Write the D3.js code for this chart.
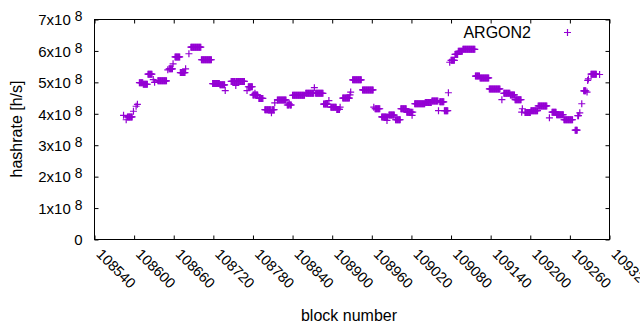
<!DOCTYPE html>
<html>
<head>
<meta charset="utf-8">
<script src="https://cdn.jsdelivr.net/npm/d3@7"></script>
<style>
  body { margin: 0; background: #fff; }
  text { font-family: "Liberation Sans", Arial, sans-serif; fill: #000; }
</style>
</head>
<body>
<svg id="chart" width="640" height="330"></svg>
<script>
// hashrate is reported per block but stays flat for runs of blocks,
// so the series is kept as runs: first block, number of blocks, value (x1e8 h/s)
const runStart = [
  108584, 108588, 108590, 108599, 108603, 108605, 108608, 108614, 108621, 108629,
  108631, 108636, 108651, 108653, 108659, 108662, 108670, 108678, 108683, 108686,
  108702, 108719, 108730, 108738, 108747, 108754, 108755, 108771, 108773, 108780,
  108783, 108784, 108789, 108798, 108808, 108809, 108813, 108817, 108832, 108835,
  108836, 108840, 108860, 108873, 108875, 108887, 108895, 108898, 108907, 108912,
  108916, 108927, 108928, 108931, 108946, 108963, 108965, 108975, 108983, 108984,
  108986, 108996, 109004, 109013, 109021, 109022, 109025, 109041, 109051, 109061,
  109063, 109070, 109076, 109078, 109080, 109086, 109091, 109098, 109117, 109124,
  109138, 109157, 109160, 109170, 109177, 109187, 109188, 109192, 109201, 109212,
  109229, 109233, 109240, 109251, 109268, 109272, 109275, 109278, 109281, 109286,
  109287, 109288, 109292, 109305
];
const runLength = [
  1, 1, 8, 1, 1, 1, 6, 7, 7, 1,
  1, 14, 1, 6, 1, 8, 8, 1, 1, 16,
  16, 11, 8, 1, 7, 1, 13, 1, 7, 3,
  1, 4, 7, 10, 1, 4, 1, 14, 3, 1,
  3, 19, 13, 1, 12, 7, 1, 9, 5, 1,
  11, 1, 1, 14, 17, 1, 8, 8, 1, 1,
  9, 8, 9, 8, 1, 1, 16, 10, 10, 1,
  7, 6, 1, 1, 6, 5, 7, 19, 7, 14,
  17, 1, 10, 7, 10, 1, 1, 9, 11, 14,
  1, 7, 11, 14, 4, 2, 1, 1, 4, 1,
  1, 1, 9, 1
];
const runHashrate = [
  3.95, 3.81, 3.90, 4.08, 4.24, 4.30, 4.99, 4.94, 5.26, 5.09,
  5.00, 5.05, 5.40, 5.43, 5.59, 5.81, 5.31, 5.43, 5.91, 6.12,
  5.72, 4.96, 4.92, 4.74, 5.03, 4.90, 5.03, 4.74, 4.86, 4.60,
  4.65, 4.60, 4.49, 4.13, 4.03, 4.13, 4.35, 4.44, 4.28, 4.32,
  4.28, 4.59, 4.65, 4.83, 4.65, 4.31, 4.42, 4.21, 4.14, 4.21,
  4.50, 4.60, 4.69, 5.08, 4.76, 4.21, 4.16, 3.90, 3.79, 3.90,
  3.96, 3.81, 4.16, 4.05, 3.95, 4.05, 4.32, 4.36, 4.41, 4.10,
  4.38, 4.10, 4.67, 5.64, 5.70, 5.89, 5.99, 6.05, 5.20, 5.14,
  4.79, 4.45, 4.65, 4.60, 4.45, 4.05, 4.16, 4.04, 4.10, 4.25,
  3.87, 4.05, 3.97, 3.81, 3.48, 3.94, 4.03, 4.32, 4.73, 4.69,
  5.06, 5.11, 5.26, 5.25
];
const xTickValues = [108540, 108600, 108660, 108720, 108780, 108840, 108900,
                     108960, 109020, 109080, 109140, 109200, 109260, 109320];
const yTickValues = [0, 1e8, 2e8, 3e8, 4e8, 5e8, 6e8, 7e8];
const seriesName = "ARGON2";
const color = "#9400D3";

const points = [];
runStart.forEach((b, i) => {
  for (let k = 0; k < runLength[i]; k++) {
    points.push({ block: b + k, hashrate: runHashrate[i] * 1e8 });
  }
});

const margin = { top: 19.5, left: 94.5 },
      width = 515,
      height = 220;

const x = d3.scaleLinear().domain([108540, 109320]).range([0, width]);
const y = d3.scaleLinear().domain([0, 7e8]).range([height, 0]);

const svg = d3.select('#chart');
const g = svg.append('g').attr('transform', `translate(${margin.left},${margin.top})`);

const plus = 'M-3.5,0H3.5M0,-3.5V3.5';

// bottom axis with rotated labels
const xAxis = g.append('g')
  .attr('transform', `translate(0,${height})`)
  .call(d3.axisBottom(x).tickValues(xTickValues).tickFormat(d3.format('d'))
        .tickSizeInner(-4).tickSizeOuter(0));
xAxis.selectAll('text')
  .attr('x', 0).attr('y', 0).attr('dy', null)
  .style('text-anchor', 'start')
  .style('font-size', '14.5px')
  .attr('transform', 'translate(0.5,15.5) rotate(45)');

// top mirror ticks
g.append('g')
  .call(d3.axisTop(x).tickValues(xTickValues).tickFormat('').tickSizeInner(-4).tickSizeOuter(0));

// left axis, labels like 7x10^8
const yAxis = g.append('g')
  .call(d3.axisLeft(y).tickValues(yTickValues).tickSizeInner(-4).tickSizeOuter(0));
yAxis.selectAll('text').each(function (d) {
  const t = d3.select(this).text(null)
    .attr('x', -12).attr('dy', '0.35em').style('text-anchor', 'end')
    .style('font-size', '15px');
  if (d === 0) { t.text('0'); return; }
  t.append('tspan').text(`${d / 1e8}x10`);
  t.append('tspan').attr('dx', 4).attr('dy', -4).style('font-size', '0.92em').text('8');
});

// right mirror ticks
g.append('g')
  .attr('transform', `translate(${width},0)`)
  .call(d3.axisRight(y).tickValues(yTickValues).tickFormat('').tickSizeInner(-4).tickSizeOuter(0));

g.selectAll('.domain').remove();
g.selectAll('.tick line').attr('stroke', '#000');
g.selectAll('.tick text').attr('fill', '#000');

g.append('rect')
  .attr('width', width).attr('height', height)
  .attr('fill', 'none').attr('stroke', '#000').attr('stroke-width', 1);

// points
g.append('g')
  .selectAll('path')
  .data(points)
  .enter().append('path')
    .attr('d', plus)
    .attr('transform', d => `translate(${x(d.block)},${y(d.hashrate)})`)
    .attr('stroke', color)
    .attr('stroke-width', 1.2)
    .attr('fill', 'none');

// legend
svg.append('text')
  .attr('x', 531).attr('y', 38)
  .style('text-anchor', 'end').style('font-size', '16px')
  .text(seriesName);
svg.append('path')
  .attr('d', plus)
  .attr('transform', 'translate(567.5,32.5)')
  .attr('stroke', color).attr('stroke-width', 1.2).attr('fill', 'none');

// axis titles
svg.append('text')
  .attr('transform', 'translate(21.5,129) rotate(-90)')
  .style('text-anchor', 'middle').style('font-size', '16px')
  .text('hashrate [h/s]');
svg.append('text')
  .attr('x', 349).attr('y', 321)
  .style('text-anchor', 'middle').style('font-size', '16px')
  .text('block number');
</script>
</body>
</html>
